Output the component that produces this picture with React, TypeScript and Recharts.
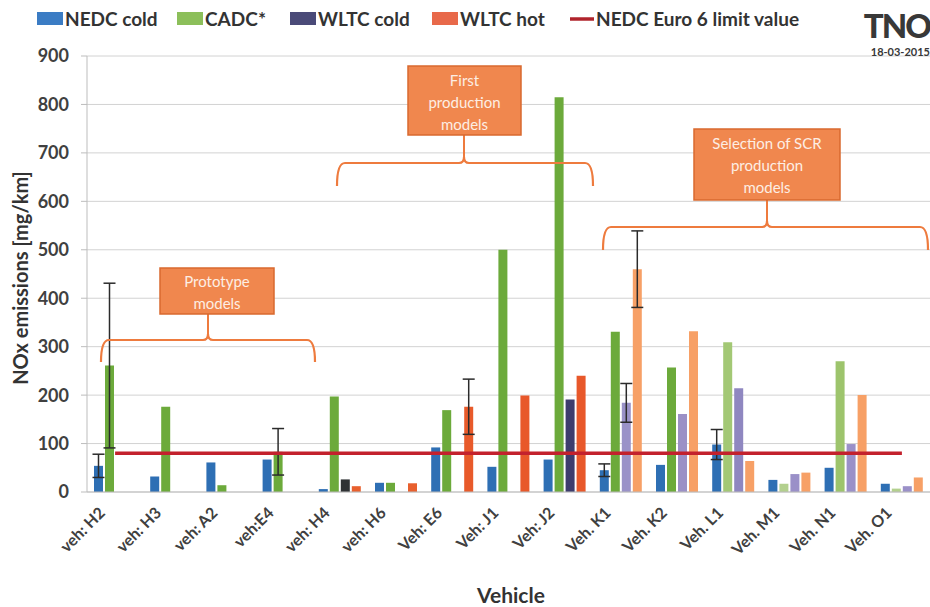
import React from 'react';
import { ComposedChart, Bar, Line, XAxis, YAxis, CartesianGrid, ErrorBar, Cell } from 'recharts';

const vehicles = ['veh: H2', 'veh: H3', 'veh: A2', 'veh:E4', 'veh: H4', 'veh: H6', 'Veh: E6', 'Veh: J1', 'Veh: J2', 'Veh. K1', 'Veh. K2', 'Veh. L1', 'Veh. M1', 'Veh. N1', 'Veh. O1'];
const nedcCold = [54, 32, 61, 67, 6, 19, 92, 52, 67, 45, 56, 98, 25, 50, 17];
const cadc = [261, 176, 14, 83, 197, 19, 169, 500, 815, 331, 257, 309, 17, 270, 7];
const wltcCold = [null, null, null, null, 26, null, null, null, 191, 184, 161, 214, 37, 99, 12];
const wltcHot = [null, null, null, null, 12, 18, 176, 199, 240, 460, 332, 64, 40, 200, 30];
const nedcErr = [24, null, null, null, null, null, null, null, null, 13, null, 31, null, null, null];
const cadcErr = [170, null, null, 48, null, null, null, null, null, null, null, null, null, null, null];
const coldErr = [null, null, null, null, null, null, null, null, null, 40, null, null, null, null, null];
const hotErr = [null, null, null, null, null, null, 57, null, null, 79, null, null, null, null, null];
const euro6Limit = 80;
const yTicks = [0, 100, 200, 300, 400, 500, 600, 700, 800, 900];

const cadcColors = ['#6caa3b', '#6caa3b', '#6caa3b', '#6caa3b', '#6caa3b', '#6caa3b', '#6caa3b', '#6caa3b', '#6caa3b', '#6caa3b', '#6caa3b', '#a3c875', '#b3d08e', '#9dc46c', '#b3d08e'];
const coldColors = ['#3b3a6b', '#3b3a6b', '#3b3a6b', '#3b3a6b', '#2f3234', '#3b3a6b', '#3b3a6b', '#3b3a6b', '#3d3c6d', '#9a92c8', '#9b90c6', '#8f87c0', '#9a90c8', '#9a90c8', '#9a90c8'];
const hotColors = ['#e8592b', '#e8592b', '#e8592b', '#e8592b', '#e8602e', '#e8602e', '#e85a2a', '#e8582a', '#e8582a', '#f7a066', '#f7a066', '#f7a066', '#f7a066', '#f7a066', '#f7a066'];

const data = vehicles.map((name, i) => ({
  name,
  nedc: nedcCold[i],
  cadc: cadc[i],
  cold: wltcCold[i],
  hot: wltcHot[i],
  limit: euro6Limit,
  nedcErr: nedcErr[i],
  cadcErr: cadcErr[i],
  coldErr: coldErr[i],
  hotErr: hotErr[i],
}));

const FONT = 'Lato, "Open Sans", sans-serif';

const VehicleTick = (props: any) => {
  const { x, y, payload } = props;
  const ax = x - 9;
  const ay = y + 14;
  return (
    <text x={ax} y={ay} transform={`rotate(-45, ${ax}, ${ay})`} textAnchor="end"
      fontFamily={FONT} fontWeight={700} fontSize={16} fill="#404040">
      {payload.value}
    </text>
  );
};

const brace = (x1: number, x2: number, xc: number, y: number, drop: number) =>
  `M${x1},${y + drop} Q${x1},${y} ${x1 + 8},${y} L${xc - 5},${y} Q${xc},${y} ${xc},${y - 6} Q${xc},${y} ${xc + 5},${y} L${x2 - 8},${y} Q${x2},${y} ${x2},${y + drop}`;

const Callout = ({ box, lines, br }: any) => (
  <g>
    <path d={brace(br.x1, br.x2, br.xc, br.y, br.drop)} fill="none" stroke="#ee7b3e" strokeWidth={2.2} />
    <line x1={br.xc} y1={br.y - 6} x2={br.xc} y2={box.y + box.h} stroke="#ee7b3e" strokeWidth={2} />
    <rect x={box.x} y={box.y} width={box.w} height={box.h} fill="#f0874e" stroke="#d9692f" strokeWidth={1.5} />
    {lines.map((t: string, i: number) => (
      <text key={t} x={box.x + box.w / 2} y={box.y + box.first + i * 22} textAnchor="middle"
        fontFamily={FONT} fontSize={15} fill="#fdeee4">{t}</text>
    ))}
  </g>
);

const legendItems = [
  { label: 'NEDC cold', color: '#3b7cc4', x: 37 },
  { label: 'CADC*', color: '#8cbf5a', x: 177 },
  { label: 'WLTC cold', color: '#4a4a78', x: 290 },
  { label: 'WLTC hot', color: '#e8694a', x: 432 },
];

const App: React.FC = () => {
  return (
    <div style={{ position: 'absolute', left: 0, top: 0, width: 930, height: 607, background: '#fff', overflow: 'hidden' }}>
      <ComposedChart width={930} height={607} data={data}
        margin={{ top: 56, right: 0, left: 0, bottom: 0 }}
        barCategoryGap={7} barGap={2}>
        <CartesianGrid stroke="#d2d2d2" vertical={false} />
        <XAxis dataKey="name" interval={0} height={115} tick={<VehicleTick />}
          axisLine={{ stroke: '#bdbdbd' }} tickLine={false} />
        <YAxis width={87} domain={[0, 900]} ticks={yTicks} tickSize={6} tickMargin={12}
          axisLine={{ stroke: '#bdbdbd' }} tickLine={{ stroke: '#bdbdbd' }}
          tick={{ fontFamily: FONT, fontWeight: 700, fontSize: 18, fill: '#404040' }} />
        <Bar dataKey="nedc" fill="#2e6fb4" isAnimationActive={false}>
          <ErrorBar dataKey="nedcErr" width={6} stroke="#2b2b2b" strokeWidth={1.5} direction="y" />
        </Bar>
        <Bar dataKey="cadc" fill="#6caa3b" isAnimationActive={false}>
          {cadcColors.map((c, i) => <Cell key={`cadc-${i}`} fill={c} />)}
          <ErrorBar dataKey="cadcErr" width={6} stroke="#2b2b2b" strokeWidth={1.5} direction="y" />
        </Bar>
        <Bar dataKey="cold" fill="#3b3a6b" isAnimationActive={false}>
          {coldColors.map((c, i) => <Cell key={`cold-${i}`} fill={c} />)}
          <ErrorBar dataKey="coldErr" width={6} stroke="#2b2b2b" strokeWidth={1.5} direction="y" />
        </Bar>
        <Bar dataKey="hot" fill="#e8592b" isAnimationActive={false}>
          {hotColors.map((c, i) => <Cell key={`hot-${i}`} fill={c} />)}
          <ErrorBar dataKey="hotErr" width={6} stroke="#2b2b2b" strokeWidth={1.5} direction="y" />
        </Bar>
        <Line dataKey="limit" stroke="#c3212d" strokeWidth={3.5} dot={false} isAnimationActive={false} />
      </ComposedChart>

      <svg width={930} height={607} style={{ position: 'absolute', left: 0, top: 0, pointerEvents: 'none' }}>
        {legendItems.map((it) => (
          <g key={it.label}>
            <rect x={it.x} y={12} width={26} height={13} fill={it.color} />
            <text x={it.x + 28} y={26} fontFamily={FONT} fontWeight={700} fontSize={19} fill="#333">{it.label}</text>
          </g>
        ))}
        <line x1={570} y1={19} x2={594} y2={19} stroke="#b0242c" strokeWidth={3.5} />
        <text x={596} y={26} fontFamily={FONT} fontWeight={700} fontSize={19} fill="#333">NEDC Euro 6 limit value</text>

        <text x={930} y={38} textAnchor="end" fontFamily={FONT} fontWeight={900} fontSize={33} fill="#383838" letterSpacing={-2}>TNO</text>
        <text x={930} y={56} textAnchor="end" fontFamily={FONT} fontWeight={700} fontSize={11} fill="#383838">18-03-2015</text>

        <text transform="translate(28, 278) rotate(-90)" textAnchor="middle" fontFamily={FONT} fontWeight={700} fontSize={20} fill="#333">NOx emissions [mg/km]</text>
        <text x={511} y={603} textAnchor="middle" fontFamily={FONT} fontWeight={700} fontSize={21} fill="#333">Vehicle</text>

        <Callout box={{ x: 160, y: 268, w: 114, h: 46, first: 19 }} lines={['Prototype', 'models']}
          br={{ x1: 101, x2: 315, xc: 208, y: 340, drop: 22 }} />
        <Callout box={{ x: 408, y: 66, w: 113, h: 69, first: 20 }} lines={['First', 'production', 'models']}
          br={{ x1: 337, x2: 593, xc: 464, y: 163, drop: 23 }} />
        <Callout box={{ x: 694, y: 129, w: 146, h: 71, first: 20 }} lines={['Selection of SCR', 'production', 'models']}
          br={{ x1: 603, x2: 928, xc: 767, y: 227, drop: 23 }} />
      </svg>
    </div>
  );
};

export default App;
